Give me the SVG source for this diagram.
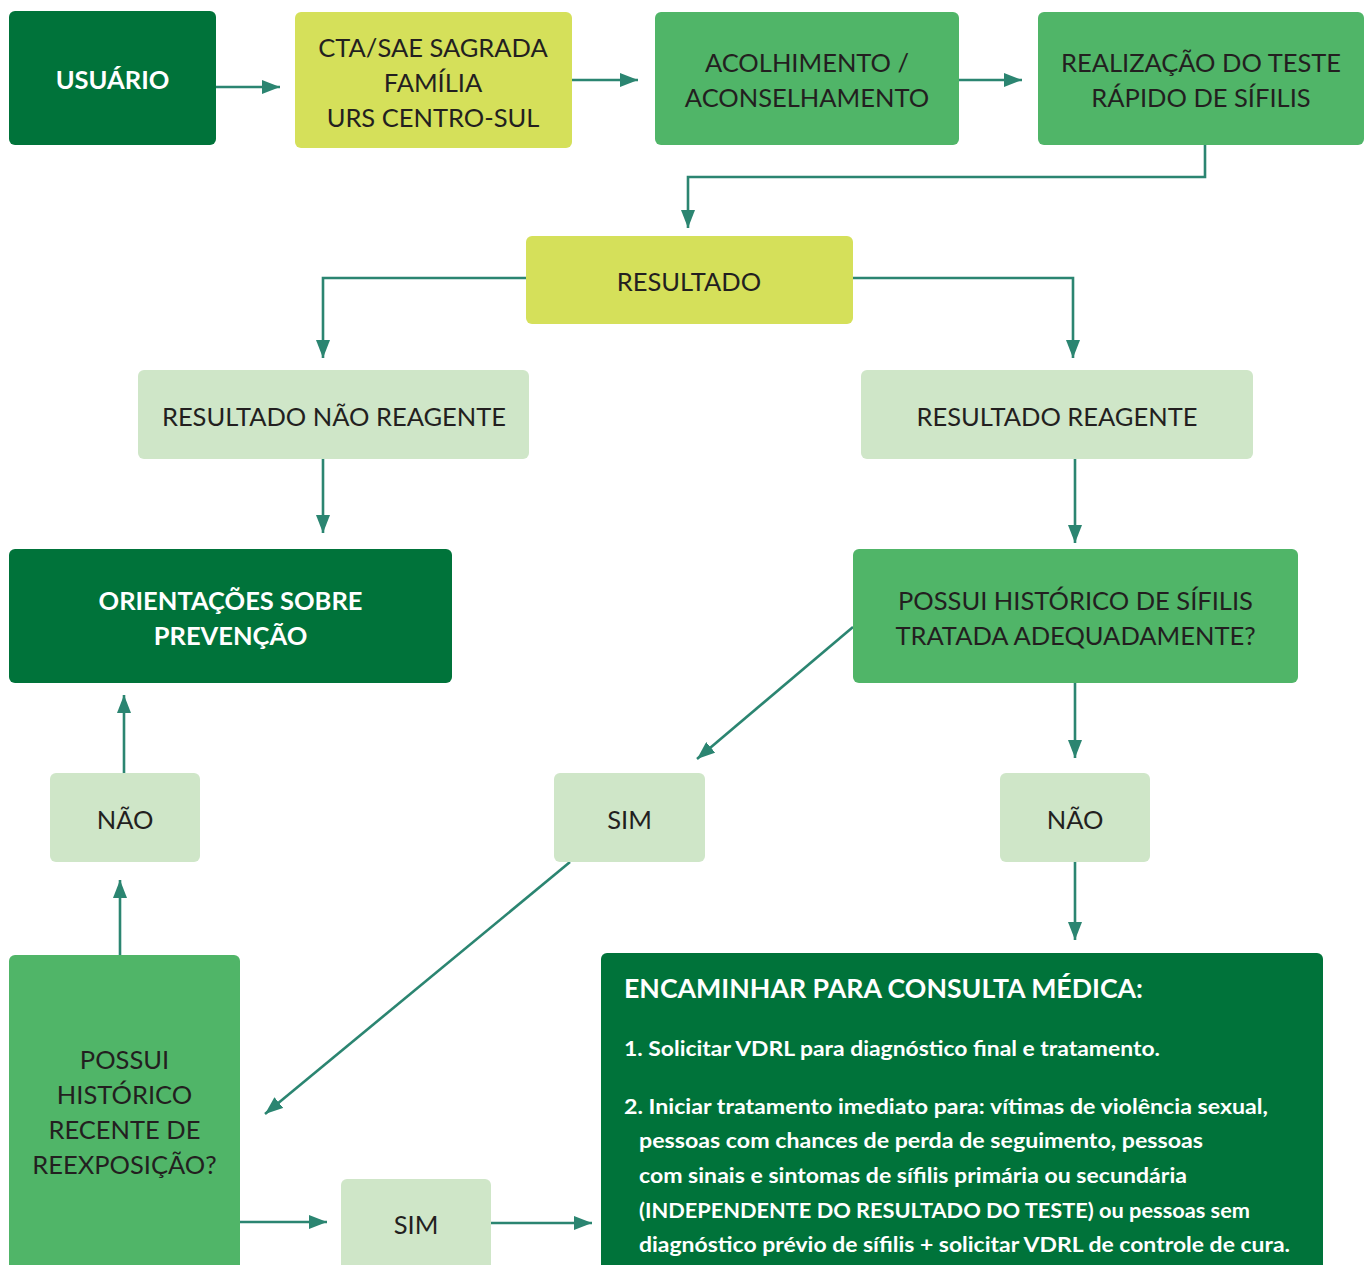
<svg xmlns="http://www.w3.org/2000/svg" width="1371" height="1265" viewBox="0 0 1371 1265">
<style>
.dk{fill:#00733a}.md{fill:#50b568}.lt{fill:#cfe6c8}.yl{fill:#d5e05a}
text{font-family:Lato,"Open Sans","Liberation Sans",sans-serif;font-size:25.5px;fill:#231f20;text-anchor:middle}
.w{fill:#fff;font-weight:bold}
.b{fill:#fff;font-weight:bold;text-anchor:start;font-size:21px}
.c{fill:none;stroke:#2b8571;stroke-width:2.6}
</style>
<defs>
<marker id="a" viewBox="0 0 18 14" refX="18" refY="7" markerWidth="18" markerHeight="14" markerUnits="userSpaceOnUse" orient="auto">
<path d="M0,0 L18,7 L0,14 z" fill="#2b8571"/>
</marker>
</defs>
<g id="connectors">
<path class="c" marker-end="url(#a)" d="M216,87 H280"/>
<path class="c" marker-end="url(#a)" d="M572,80 H638"/>
<path class="c" marker-end="url(#a)" d="M959,80 H1022"/>
<path class="c" marker-end="url(#a)" d="M1205,145 V177 H688 V228"/>
<path class="c" marker-end="url(#a)" d="M526,278 H323 V358"/>
<path class="c" marker-end="url(#a)" d="M853,278 H1073 V358"/>
<path class="c" marker-end="url(#a)" d="M323,459 V533"/>
<path class="c" marker-end="url(#a)" d="M1075,459 V543"/>
<path class="c" marker-end="url(#a)" d="M853,627 L697,759"/>
<path class="c" marker-end="url(#a)" d="M1075,683 V758"/>
<path class="c" marker-end="url(#a)" d="M124,773 V695"/>
<path class="c" marker-end="url(#a)" d="M120,955 V880"/>
<path class="c" marker-end="url(#a)" d="M570,862 L265,1114"/>
<path class="c" marker-end="url(#a)" d="M1075,862 V940"/>
<path class="c" marker-end="url(#a)" d="M240,1222 H327"/>
<path class="c" marker-end="url(#a)" d="M491,1223 H592"/>
</g>
<g id="usuario"><rect class="dk" x="9" y="11" width="207" height="134" rx="6"/><text class="w" x="112.5" y="89">USUÁRIO</text></g>
<g id="cta"><rect class="yl" x="295" y="12" width="277" height="136" rx="6"/>
<text x="433" y="57">CTA/SAE SAGRADA</text><text x="433" y="92">FAMÍLIA</text><text x="433" y="127">URS CENTRO-SUL</text></g>
<g id="acolhimento"><rect class="md" x="655" y="12" width="304" height="133" rx="6"/>
<text x="807" y="72">ACOLHIMENTO /</text><text x="807" y="107">ACONSELHAMENTO</text></g>
<g id="teste"><rect class="md" x="1038" y="12" width="326" height="133" rx="6"/>
<text x="1201" y="72">REALIZAÇÃO DO TESTE</text><text x="1201" y="107">RÁPIDO DE SÍFILIS</text></g>
<g id="resultado"><rect class="yl" x="526" y="236" width="327" height="88" rx="6"/><text x="689" y="291">RESULTADO</text></g>
<g id="nao-reagente"><rect class="lt" x="138" y="370" width="391" height="89" rx="6"/><text x="334" y="426">RESULTADO NÃO REAGENTE</text></g>
<g id="reagente"><rect class="lt" x="861" y="370" width="392" height="89" rx="6"/><text x="1057" y="426">RESULTADO REAGENTE</text></g>
<g id="orientacoes"><rect class="dk" x="9" y="549" width="443" height="134" rx="6"/>
<text class="w" x="230.5" y="610">ORIENTAÇÕES SOBRE</text><text class="w" x="230.5" y="645">PREVENÇÃO</text></g>
<g id="historico"><rect class="md" x="853" y="549" width="445" height="134" rx="6"/>
<text x="1075.5" y="610">POSSUI HISTÓRICO DE SÍFILIS</text><text x="1075.5" y="645">TRATADA ADEQUADAMENTE?</text></g>
<g id="nao1"><rect class="lt" x="50" y="773" width="150" height="89" rx="6"/><text x="125" y="829">NÃO</text></g>
<g id="sim1"><rect class="lt" x="554" y="773" width="151" height="89" rx="6"/><text x="629.5" y="829">SIM</text></g>
<g id="nao2"><rect class="lt" x="1000" y="773" width="150" height="89" rx="6"/><text x="1075" y="829">NÃO</text></g>
<g id="reexposicao"><rect class="md" x="9" y="955" width="231" height="320" rx="6"/>
<text x="124.5" y="1069">POSSUI</text><text x="124.5" y="1104">HISTÓRICO</text><text x="124.5" y="1139">RECENTE DE</text><text x="124.5" y="1174">REEXPOSIÇÃO?</text></g>
<g id="sim2"><rect class="lt" x="341" y="1179" width="150" height="96" rx="6"/><text x="416" y="1234">SIM</text></g>
<g id="encaminhar"><rect class="dk" x="601" y="953" width="722" height="322" rx="6"/>
<text class="b" x="624" y="998" style="font-size:26px" textLength="519" lengthAdjust="spacingAndGlyphs">ENCAMINHAR PARA CONSULTA MÉDICA:</text>
<text class="b" x="624" y="1056" textLength="536" lengthAdjust="spacingAndGlyphs">1. Solicitar VDRL para diagnóstico final e tratamento.</text>
<text class="b" x="624" y="1114" textLength="644" lengthAdjust="spacingAndGlyphs">2. Iniciar tratamento imediato para: vítimas de violência sexual,</text>
<text class="b" x="639" y="1148" textLength="564" lengthAdjust="spacingAndGlyphs">pessoas com chances de perda de seguimento, pessoas</text>
<text class="b" x="639" y="1183" textLength="548" lengthAdjust="spacingAndGlyphs">com sinais e sintomas de sífilis primária ou secundária</text>
<text class="b" x="639" y="1218" textLength="611" lengthAdjust="spacingAndGlyphs">(INDEPENDENTE DO RESULTADO DO TESTE) ou pessoas sem</text>
<text class="b" x="639" y="1252" textLength="651" lengthAdjust="spacingAndGlyphs">diagnóstico prévio de sífilis + solicitar VDRL de controle de cura.</text></g>
</svg>
